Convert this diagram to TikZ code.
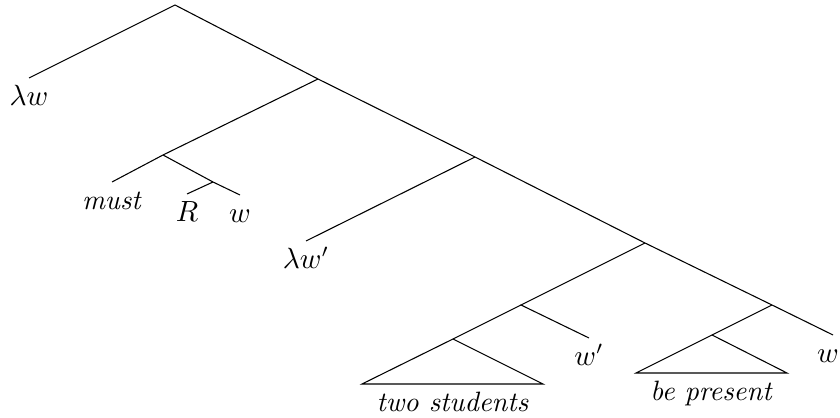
\documentclass[tikz,border=0pt]{standalone}
\usetikzlibrary{calc}
\begin{document}
\begin{tikzpicture}[x=0.375pt,y=-0.375pt,
  leaf/.style={anchor=north,inner sep=3pt,text height=7pt,text depth=2pt,font=\fontsize{10.5}{12}\selectfont},
  edge/.style={line width=0.4pt}]
\useasboundingbox (0,0) rectangle (840,418);
% internal nodes
\coordinate (r) at (175,5);
\coordinate (n1) at (318,79);
\coordinate (n2) at (163,155);
\coordinate (n3) at (213,182);
\coordinate (s2) at (475,157);
\coordinate (s3) at (645,243);
\coordinate (n4) at (521,305);
\coordinate (a1) at (453,339);
\coordinate (b1l) at (362,384);
\coordinate (b1r) at (543,384);
\coordinate (s4) at (772,305);
\coordinate (a2) at (712,335);
\coordinate (b2l) at (636,373);
\coordinate (b2r) at (787,373);
\coordinate (we) at (833,335);
% leaves
\node[leaf] (lw) at (29,78) {$\lambda w$};
\node[leaf] (must) at (112,182) {\textit{must}};
\node[leaf] (R) at (187,194) {$R$};
\node[leaf] (w1) at (240,195) {$w$};
\node[leaf] (lwp) at (306,241) {$\lambda w'$};
\node[leaf] (wp) at (589,338) {$w'$};
\node[leaf] (ts) at ($(b1l)!0.5!(b1r)$) {\textit{two students}};
\node[leaf] (bp) at ($(b2l)!0.5!(b2r)$) {\textit{be present}};
\node[leaf] (w3) at (828,335) {$w$};
% edges
\draw[edge] (lw.north) -- (r) -- (n1) -- (s2) -- (s3) -- (s4) -- (we);
\draw[edge] (n1) -- (n2) -- (must.north);
\draw[edge] (n2) -- (n3) -- (w1.north);
\draw[edge] (n3) -- (R.north);
\draw[edge] (s2) -- (lwp.north);
\draw[edge] (s3) -- (n4) -- (wp.north);
\draw[edge] (n4) -- (a1);
\draw[edge] (a1) -- (b1l) -- (b1r) -- cycle;
\draw[edge] (s4) -- (a2);
\draw[edge] (a2) -- (b2l) -- (b2r) -- cycle;
\end{tikzpicture}
\end{document}
